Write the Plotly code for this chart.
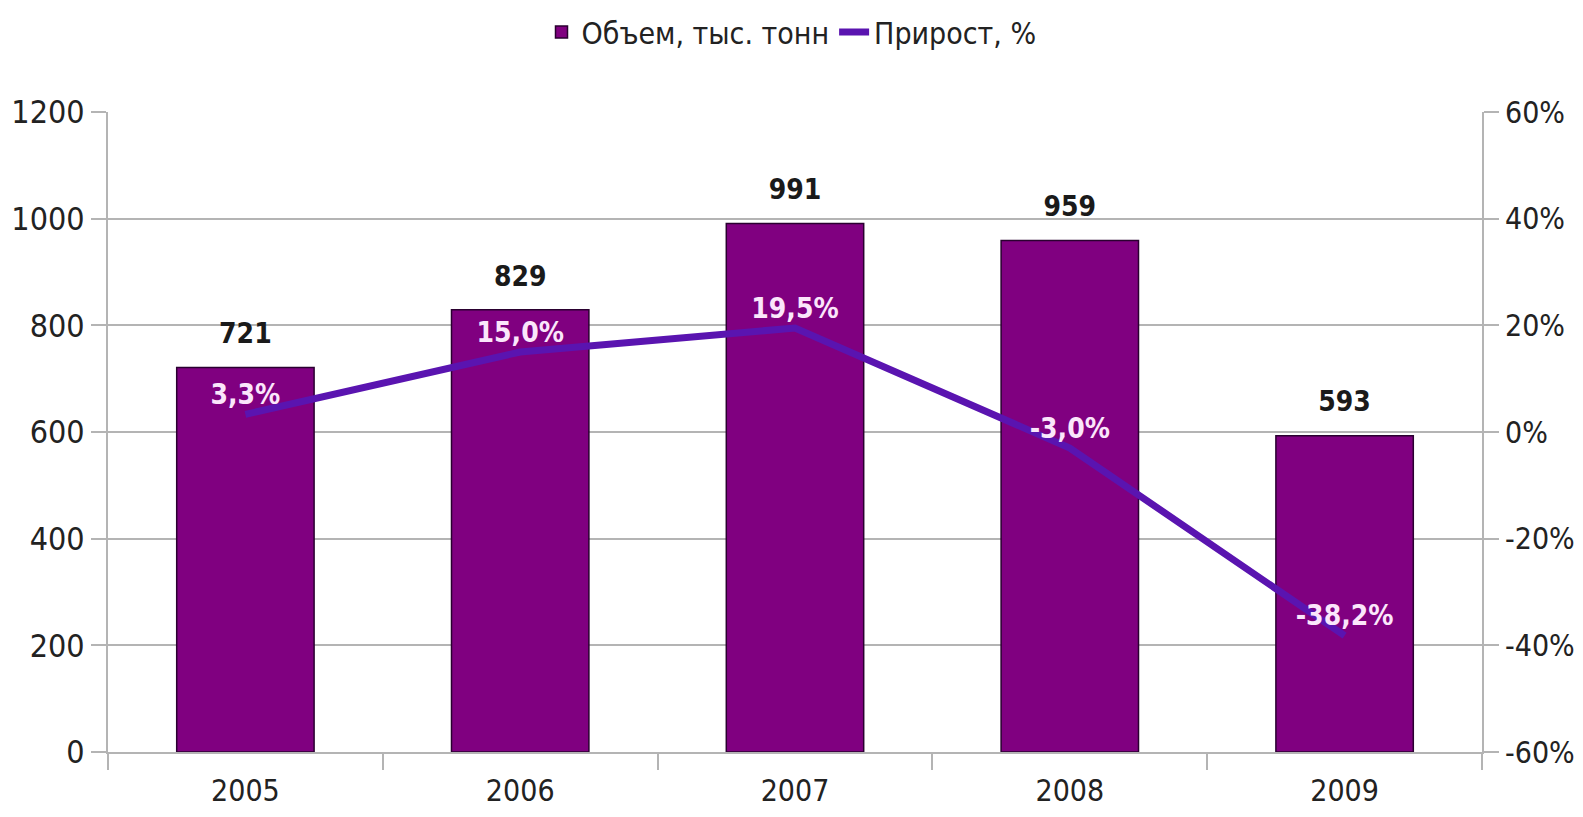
import plotly.graph_objects as go

years = ["2005", "2006", "2007", "2008", "2009"]
volume = [721, 829, 991, 959, 593]
growth = [3.3, 15.0, 19.5, -3.0, -38.2]
growth_labels = ["3,3%", "15,0%", "19,5%", "-3,0%", "-38,2%"]
y2_tickvals = [-60, -40, -20, 0, 20, 40, 60]
y2_ticktext = ["-60%", "-40%", "-20%", "0%", "20%", "40%", "60%"]

FONT = "DejaVu Sans Condensed, Liberation Sans Narrow, sans-serif"
BAR_COLOR = "#800080"
LINE_COLOR = "#5a14b0"
GRID = "#b4b4b4"

fig = go.Figure()
fig.add_trace(go.Bar(
    x=years, y=volume, name="Объем, тыс. тонн",
    marker=dict(color=BAR_COLOR, line=dict(color="#2a0030", width=1.5)),
    width=0.5,
))
fig.add_trace(go.Scatter(
    x=years, y=growth, name="Прирост, %", yaxis="y2",
    mode="lines", line=dict(color=LINE_COLOR, width=7),
))
# value labels above bars
fig.add_trace(go.Scatter(
    x=years, y=volume, mode="markers+text", text=[str(v) for v in volume],
    textposition="top center", showlegend=False, hoverinfo="skip",
    marker=dict(size=26, opacity=0),
    textfont=dict(family=FONT, size=28, color="#1a1a1a", weight="bold"),
))
# percent labels above line points
fig.add_trace(go.Scatter(
    x=years, y=growth, yaxis="y2", mode="markers+text", text=growth_labels,
    textposition="top center", showlegend=False, hoverinfo="skip",
    marker=dict(size=4, opacity=0),
    textfont=dict(family=FONT, size=28, color="#fbe6fb", weight="bold"),
))

fig.update_layout(
    width=1567, height=801,
    margin=dict(l=100, r=93, t=104, b=57, autoexpand=False),
    paper_bgcolor="white", plot_bgcolor="white",
    font=dict(family=FONT, size=32, color="#222222"),
    showlegend=True,
    legend=dict(orientation="h", x=0.5, xanchor="center", y=0.97, yanchor="middle",
                xref="container", yref="container",
                font=dict(family=FONT, size=30, color="#222222"),
                traceorder="normal"),
    xaxis=dict(type="category", showline=True, linecolor=GRID, linewidth=2,
               ticks="outside", tickson="boundaries", ticklen=16, tickcolor=GRID, tickwidth=2,
               showgrid=False, tickfont=dict(size=30), tickangle=0, automargin=False,
               ticklabelstandoff=11),
    yaxis=dict(range=[0, 1200], dtick=200, showgrid=True, gridcolor=GRID, gridwidth=2,
               showline=True, linecolor=GRID, linewidth=2, ticks="outside", ticklen=15,
               tickcolor=GRID, tickwidth=2, zeroline=False, tickfont=dict(size=32),
               automargin=False),
    yaxis2=dict(range=[-60, 60], tickvals=y2_tickvals, ticktext=y2_ticktext,
                overlaying="y", side="right", showgrid=False,
                showline=True, linecolor=GRID, linewidth=2, ticks="outside", ticklen=15,
                tickcolor=GRID, tickwidth=2, zeroline=False,
                tickfont=dict(size=30), automargin=False),
)

fig.write_html("out.html")
